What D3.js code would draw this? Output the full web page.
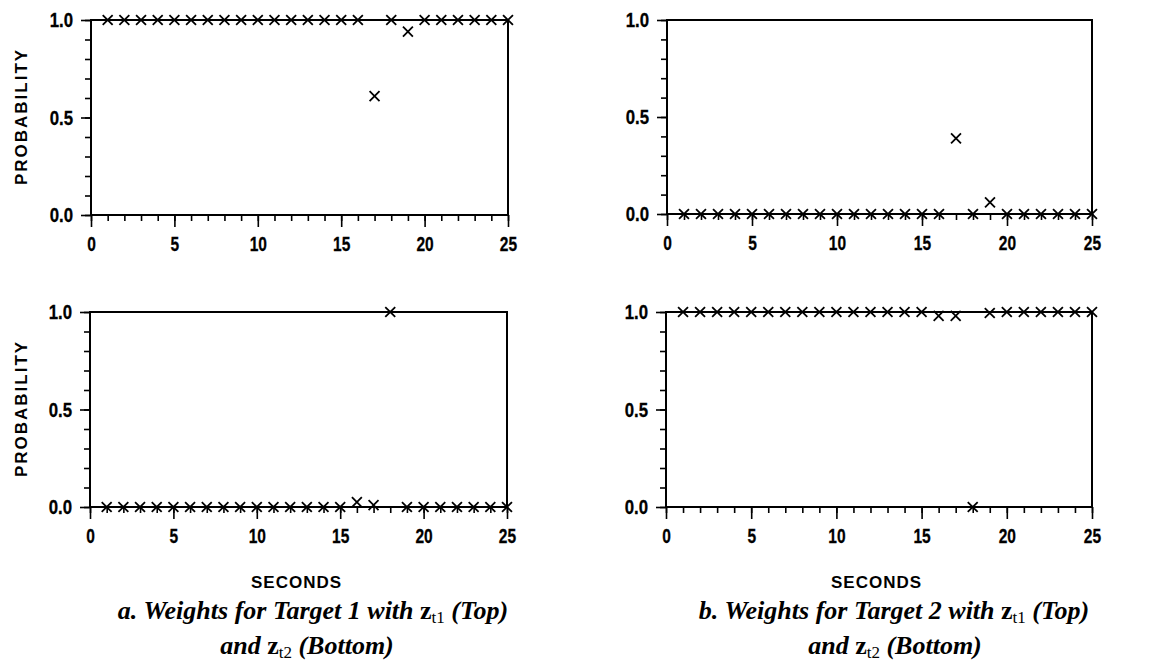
<!DOCTYPE html>
<html>
<head>
<meta charset="utf-8">
<script src="https://cdn.jsdelivr.net/npm/d3@7"></script>
<style>
  body { margin: 0; background: #fff; }
  svg { display: block; }
  .tick-lbl { font-family: "Liberation Sans", Arial, sans-serif; font-weight: bold; font-size: 21px; }
  .ax-title { font-family: "Liberation Sans", Arial, sans-serif; font-weight: bold; font-size: 17px; }
  .caption { font-family: "Liberation Serif", "Times New Roman", serif; font-style: italic; font-weight: bold; font-size: 26px; }
</style>
</head>
<body>
<svg width="1176" height="664"></svg>
<script>
// time in seconds (x categories)
const seconds = [1, 2, 3, 4, 5, 6, 7, 8, 9, 10, 11, 12, 13, 14, 15, 16, 17, 18, 19, 20, 21, 22, 23, 24, 25];

// weights
const target1Zt1 = [1, 1, 1, 1, 1, 1, 1, 1, 1, 1, 1, 1, 1, 1, 1, 1, 0.61, 1, 0.94, 1, 1, 1, 1, 1, 1];
const target2Zt1 = [0, 0, 0, 0, 0, 0, 0, 0, 0, 0, 0, 0, 0, 0, 0, 0, 0.39, 0, 0.06, 0, 0, 0, 0, 0, 0];
const target1Zt2 = [0, 0, 0, 0, 0, 0, 0, 0, 0, 0, 0, 0, 0, 0, 0, 0.025, 0.01, 1, 0, 0, 0, 0, 0, 0, 0];
const target2Zt2 = [1, 1, 1, 1, 1, 1, 1, 1, 1, 1, 1, 1, 1, 1, 1, 0.98, 0.98, 0, 0.995, 1, 1, 1, 1, 1, 1];

const xMajorTicks = [0, 5, 10, 15, 20, 25];
const xMinorTicks = [0, 1, 2, 3, 4, 5, 6, 7, 8, 9, 10, 11, 12, 13, 14, 15, 16, 17, 18, 19, 20, 21, 22, 23, 24, 25];
const yMajorTicks = [0, 0.5, 1];
const yMinorTicks = [0, 0.1, 0.2, 0.3, 0.4, 0.5, 0.6, 0.7, 0.8, 0.9, 1];

const captionsLine1 = [
  ['a. Weights for Target 1 with ', 't1', ' (Top)'],
  ['b. Weights for Target 2 with ', 't1', ' (Top)']
];
const captionsLine2 = [
  ['and ', 't2', ' (Bottom)'],
  ['and ', 't2', ' (Bottom)']
];

const $svg = d3.select('svg'),
      squeezeX = 0.74,
      squeezeY = 0.8;

const panels = [
  { values: target1Zt1, left: 91,  right: 508,  top: 20,  bottom: 215, ylabel: true },
  { values: target2Zt1, left: 667, right: 1092, top: 20,  bottom: 214, ylabel: false },
  { values: target1Zt2, left: 90,  right: 507,  top: 312, bottom: 507, ylabel: true },
  { values: target2Zt2, left: 666, right: 1092, top: 312, bottom: 507, ylabel: false }
];

const xMark = d3.symbol(d3.symbolX).size(66);

panels.forEach((p) => {
  const x = d3.scaleLinear().domain([0, 25]).range([p.left, p.right]),
        y = d3.scaleLinear().domain([0, 1]).range([p.bottom, p.top]);

  const g = $svg.append('g');

  // minor ticks
  g.append('g')
    .attr('transform', `translate(0,${p.bottom})`)
    .call(d3.axisBottom(x).tickValues(xMinorTicks).tickSize(6).tickFormat(''));
  g.append('g')
    .attr('transform', `translate(${p.left},0)`)
    .call(d3.axisLeft(y).tickValues(yMinorTicks).tickSize(6).tickFormat(''));

  // major ticks with labels
  const xAx = g.append('g')
    .attr('transform', `translate(0,${p.bottom})`)
    .call(d3.axisBottom(x).tickValues(xMajorTicks).tickSize(12).tickPadding(9).tickFormat(d3.format('d')));
  const yAx = g.append('g')
    .attr('transform', `translate(${p.left},0)`)
    .call(d3.axisLeft(y).tickValues(yMajorTicks).tickSize(10).tickPadding(9).tickFormat(d3.format('.1f')));

  g.selectAll('.domain').remove();
  g.selectAll('.tick line').attr('stroke', '#000').attr('stroke-width', 1.6);
  g.selectAll('g').attr('font-size', null).attr('font-family', null);
  g.selectAll('.tick text')
    .attr('class', 'tick-lbl')
    .attr('fill', '#000')
    .attr('stroke', '#000')
    .attr('stroke-width', 0.3);

  // narrow, tall look of the original labels
  xAx.selectAll('.tick text').attr('transform', `scale(${squeezeX},1)`);
  yAx.selectAll('.tick text')
    .attr('x', -18 / squeezeY)
    .attr('transform', `scale(${squeezeY},1)`);

  // frame
  g.append('rect')
    .attr('x', p.left)
    .attr('y', p.top)
    .attr('width', p.right - p.left)
    .attr('height', p.bottom - p.top)
    .attr('fill', 'none')
    .attr('stroke', '#000')
    .attr('stroke-width', 2);

  // x markers
  g.selectAll('.pt')
    .data(seconds.map((s, i) => ({ s, v: p.values[i] })))
    .enter()
    .append('path')
      .attr('class', 'pt')
      .attr('d', xMark)
      .attr('transform', (d) => `translate(${x(d.s)},${y(d.v)})`)
      .attr('fill', 'none')
      .attr('stroke', '#000')
      .attr('stroke-width', 1.8);

  if (p.ylabel) {
    g.append('text')
      .attr('class', 'ax-title')
      .attr('font-size', 18)
      .attr('transform', `translate(27,${(p.top + p.bottom) / 2 - 1}) rotate(-90)`)
      .attr('text-anchor', 'middle')
      .attr('letter-spacing', 2)
      .text('PROBABILITY');
  }
});

// bottom titles and captions
const captionX = [[313, 307], [894, 895]];

[[91, 508], [667, 1092]].forEach((r, i) => {
  const cx = (r[0] + r[1]) / 2;

  $svg.append('text')
    .attr('class', 'ax-title')
    .attr('x', cx - 3)
    .attr('y', 588)
    .attr('text-anchor', 'middle')
    .attr('letter-spacing', 1)
    .text('SECONDS');

  [[captionsLine1[i], 619, captionX[i][0]], [captionsLine2[i], 654, captionX[i][1]]].forEach(([parts, yy, xx]) => {
    const t = $svg.append('text')
      .attr('class', 'caption')
      .attr('x', xx)
      .attr('y', yy)
      .attr('text-anchor', 'middle');
    t.append('tspan').text(parts[0]);
    t.append('tspan').attr('font-style', 'normal').text('z');
    t.append('tspan').attr('font-style', 'normal').attr('font-weight', 'normal')
      .attr('font-size', 17).attr('dy', 4).text(parts[1]);
    t.append('tspan').attr('dy', -4).text(parts[2]);
  });
});
</script>
</body>
</html>
